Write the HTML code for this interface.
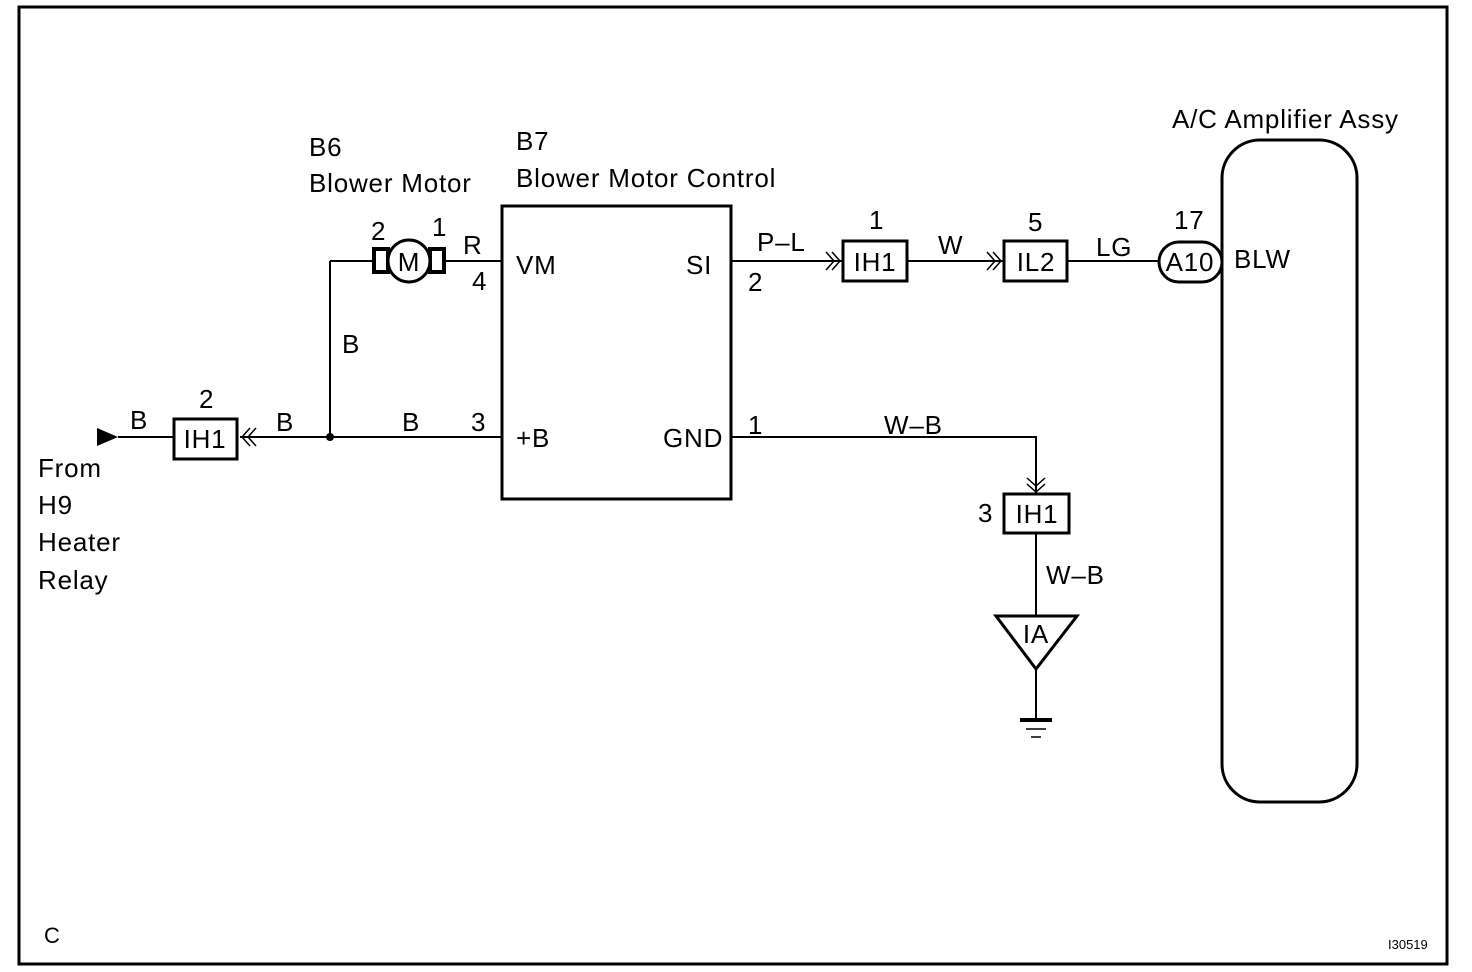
<!DOCTYPE html>
<html><head><style>
html,body{margin:0;padding:0;background:#fff;}
svg{display:block;}
text{font-family:"Liberation Sans",Arial,sans-serif;font-size:26px;letter-spacing:0.8px;fill:#000;}
.c{text-anchor:middle;}
</style></head><body>
<svg width="1472" height="972" viewBox="0 0 1472 972" xmlns="http://www.w3.org/2000/svg">
<rect x="19" y="7" width="1428" height="957" fill="none" stroke="#000" stroke-width="3"/>
<g fill="none" stroke="#000">
<rect x="502" y="206" width="229" height="293" stroke-width="3"/>
<rect x="1222" y="140" width="135" height="662" rx="38" ry="38" stroke-width="3"/>
<path d="M330 261 H373 M444 261 H502 M330 261 V437 M118 437 H173 M240 437 H502" stroke-width="2"/>
<path d="M731 261 H842 M908 261 H1003 M1068 261 H1158" stroke-width="2"/>
<path d="M731 437 H1036 V493 M1036 533 V615 M1036 670 V720" stroke-width="2"/>
<rect x="374" y="249" width="14" height="23" stroke-width="4"/>
<rect x="430" y="249" width="14" height="23" stroke-width="4"/>
<circle cx="409" cy="261" r="21" stroke-width="3" fill="#fff"/>
<rect x="174" y="419" width="63" height="40" stroke-width="3"/>
<rect x="843" y="241" width="64" height="40" stroke-width="3"/>
<rect x="1004" y="241" width="63" height="40" stroke-width="3"/>
<rect x="1159" y="242" width="63" height="40" rx="20" ry="20" stroke-width="3"/>
<rect x="1004" y="494" width="65" height="39" stroke-width="3"/>
<polygon points="996,616 1077,616 1036,669" stroke-width="3"/>
<path d="M250 428 L242 437 L250 446 M256 428 L248 437 L256 446" stroke-width="1.5"/>
<path d="M826 252 L834 261 L826 270 M832 252 L840 261 L832 270" stroke-width="1.5"/>
<path d="M987 252 L995 261 L987 270 M993 252 L1001 261 L993 270" stroke-width="1.5"/>
<path d="M1027 478 L1036 486 L1045 478 M1027 484 L1036 492 L1045 484" stroke-width="1.5"/>
<path d="M1020 720 H1052" stroke-width="4"/>
<path d="M1026 729 H1046 M1031 737 H1041" stroke-width="1.5"/>
</g>
<polygon points="97,428 118,437 97,446" fill="#000"/>
<circle cx="330" cy="437" r="4" fill="#000"/>
<text class="c" x="409" y="271">M</text>
<text class="c" x="205" y="448">IH1</text>
<text class="c" x="875" y="271">IH1</text>
<text class="c" x="1036" y="271">IL2</text>
<text class="c" x="1190" y="271">A10</text>
<text class="c" x="1037" y="523">IH1</text>
<text class="c" x="1036" y="643">IA</text>
<text x="309" y="156">B6</text>
<text x="309" y="192">Blower Motor</text>
<text x="516" y="150">B7</text>
<text x="516" y="187">Blower Motor Control</text>
<text x="1172" y="128">A/C Amplifier Assy</text>
<text x="371" y="240">2</text>
<text x="432" y="236">1</text>
<text x="463" y="254">R</text>
<text x="472" y="290">4</text>
<text x="516" y="274">VM</text>
<text x="686" y="274">SI</text>
<text x="342" y="353">B</text>
<text x="130" y="429">B</text>
<text x="199" y="408">2</text>
<text x="276" y="431">B</text>
<text x="402" y="431">B</text>
<text x="471" y="431">3</text>
<text x="516" y="447">+B</text>
<text x="663" y="447">GND</text>
<text x="748" y="434">1</text>
<text x="884" y="434">W–B</text>
<text x="757" y="251">P–L</text>
<text x="869" y="229">1</text>
<text x="938" y="254">W</text>
<text x="1028" y="231">5</text>
<text x="1096" y="256">LG</text>
<text x="1174" y="229">17</text>
<text x="1234" y="268">BLW</text>
<text x="748" y="291">2</text>
<text x="978" y="522">3</text>
<text x="1046" y="584">W–B</text>
<text x="38" y="477">From</text>
<text x="38" y="514">H9</text>
<text x="38" y="551">Heater</text>
<text x="38" y="589">Relay</text>
<text x="44" y="943" style="font-size:22px;letter-spacing:0">C</text>
<text x="1388" y="949" style="font-size:13px;letter-spacing:0">I30519</text>
</svg>
</body></html>
